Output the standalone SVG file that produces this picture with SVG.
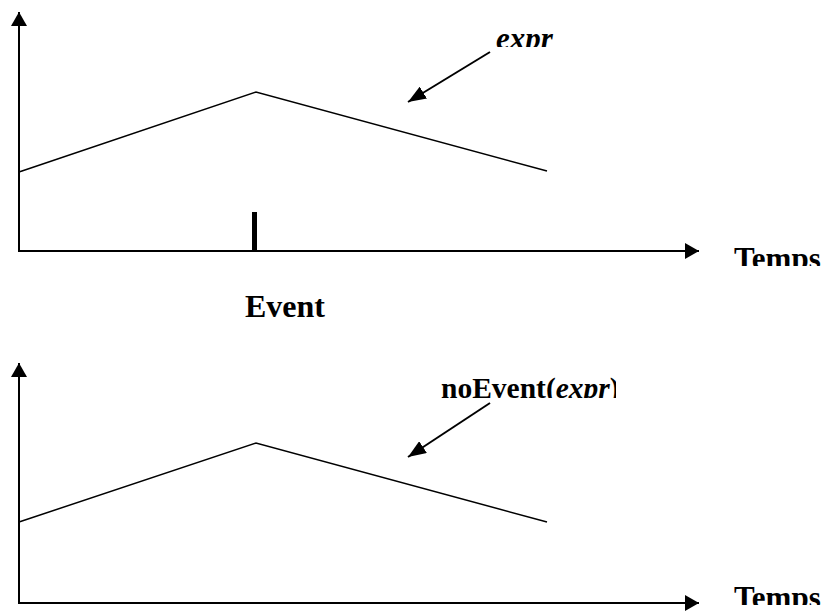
<svg xmlns="http://www.w3.org/2000/svg" width="827" height="615" viewBox="0 0 827 615">
<defs>
<style>
.ax{stroke:#000;stroke-width:2;fill:none}
.ln{stroke:#000;stroke-width:1.5;fill:none}
.t{font-family:"Liberation Serif","Times New Roman",serif;font-weight:bold;font-size:31px;fill:#000}
.i{font-style:italic}
</style>
<marker id="ah" viewBox="0 0 14 16" refX="14" refY="8" markerWidth="14" markerHeight="16" markerUnits="userSpaceOnUse" orient="auto">
<path d="M0,0 L14,8 L0,16 Z" fill="#000"/>
</marker>
<marker id="ah2" viewBox="0 0 18 14" refX="18" refY="7" markerWidth="18" markerHeight="14" markerUnits="userSpaceOnUse" orient="auto">
<path d="M0,0 L18,7 L0,14 Z" fill="#000"/>
</marker>
<clipPath id="c1"><rect x="700" y="230" width="127" height="36"/></clipPath>
<clipPath id="c2"><rect x="700" y="570" width="127" height="35"/></clipPath>
<clipPath id="c3"><rect x="480" y="10" width="100" height="37"/></clipPath>
<clipPath id="c4"><rect x="430" y="360" width="186" height="38"/></clipPath>
</defs>
<g id="connectors">
<line class="ax" x1="19" y1="251" x2="19" y2="12" marker-end="url(#ah)"/>
<line class="ax" x1="18" y1="251" x2="699" y2="251" marker-end="url(#ah)"/>
<line class="ax" x1="19" y1="603" x2="19" y2="363" marker-end="url(#ah)"/>
<line class="ax" x1="18" y1="603" x2="699" y2="603" marker-end="url(#ah)"/>
<line class="ax" x1="490" y1="52" x2="408" y2="102" marker-end="url(#ah2)"/>
<line class="ax" x1="490" y1="403" x2="408" y2="457" marker-end="url(#ah2)"/>
</g>
<g id="top-curve"><polyline class="ln" points="19,172 256,92 547,171"/></g>
<g id="event-tick"><line x1="254.5" y1="212" x2="254.5" y2="251" stroke="#000" stroke-width="5"/></g>
<g id="bottom-curve"><polyline class="ln" points="19,522 256,443 547,522"/></g>
<g id="labels">
<text class="t i" x="496" y="49" clip-path="url(#c3)">expr</text>
<text class="t" x="734" y="269" clip-path="url(#c1)">Temps</text>
<text class="t" x="245" y="317" style="font-size:32px">Event</text>
<text class="t" x="441" y="398" style="font-size:29.5px" clip-path="url(#c4)">noEvent(<tspan class="i">expr</tspan>)</text>
<text class="t" x="734" y="608" clip-path="url(#c2)">Temps</text>
</g>
</svg>
